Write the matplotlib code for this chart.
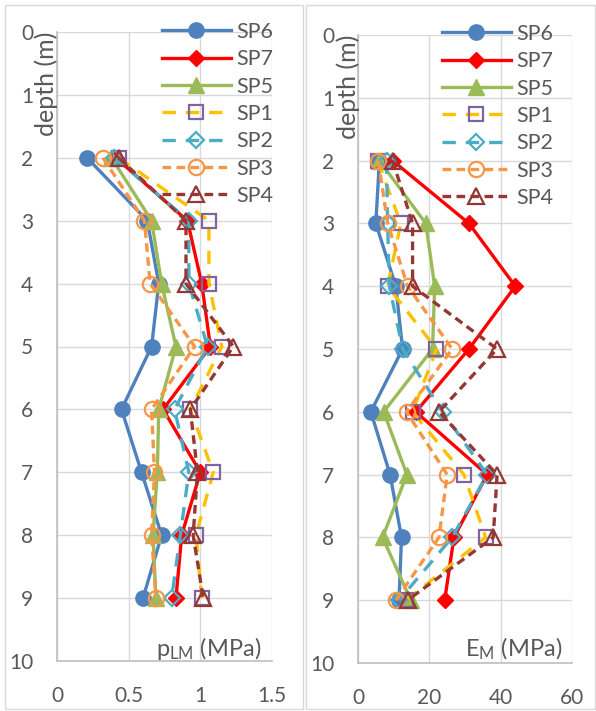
import matplotlib
matplotlib.use("Agg")
import matplotlib.pyplot as plt
from matplotlib.patches import Rectangle

plt.rcParams['font.family'] = ['Lato', 'DejaVu Sans']
plt.rcParams['mathtext.fontset'] = 'custom'
plt.rcParams['mathtext.rm'] = 'Lato'
plt.rcParams['mathtext.it'] = 'Lato'

depth = [2, 3, 4, 5, 6, 7, 8, 9]
series = ["SP6", "SP7", "SP5", "SP1", "SP2", "SP3", "SP4"]

# p_LM (MPa)
plm_SP6 = [0.21, 0.63, 0.71, 0.66, 0.45, 0.59, 0.73, 0.60]
plm_SP7 = [0.41, 0.91, 1.01, 1.07, 0.74, 1.00, 0.87, 0.83]
plm_SP5 = [0.38, 0.66, 0.73, 0.83, 0.71, 0.70, 0.67, 0.69]
plm_SP1 = [0.43, 1.06, 1.06, 1.15, 0.93, 1.09, 0.97, 1.01]
plm_SP2 = [0.40, 0.92, 0.92, 1.05, 0.82, 0.92, 0.86, 0.80]
plm_SP3 = [0.32, 0.61, 0.65, 0.96, 0.66, 0.68, 0.66, 0.69]
plm_SP4 = [0.43, 0.90, 0.90, 1.23, 0.93, 0.98, 0.95, 1.02]

# E_M (MPa)
em_SP6 = [6.0, 5.0, 10.6, 12.5, 3.6, 9.0, 12.2, 11.5]
em_SP7 = [9.7, 31.1, 44.1, 31.1, 16.2, 36.2, 26.9, 24.3]
em_SP5 = [6.0, 19.0, 21.5, 20.9, 7.2, 13.7, 6.9, 14.8]
em_SP1 = [5.5, 12.0, 8.3, 22.0, 15.3, 29.7, 35.8, 13.5]
em_SP2 = [8.0, 8.3, 8.8, 12.5, 23.7, 36.2, 26.4, 11.5]
em_SP3 = [5.7, 8.3, 13.9, 26.4, 13.6, 25.0, 22.7, 10.6]
em_SP4 = [9.7, 15.3, 15.3, 39.0, 22.7, 39.0, 37.9, 13.9]

plm = [plm_SP6, plm_SP7, plm_SP5, plm_SP1, plm_SP2, plm_SP3, plm_SP4]
em = [em_SP6, em_SP7, em_SP5, em_SP1, em_SP2, em_SP3, em_SP4]

styles = [
    dict(color='#4f81bd', ls='-', marker='o', ms=11, mfc='#4f81bd', mec='#4f81bd'),
    dict(color='#ff0000', ls='-', marker='D', ms=8.5, mfc='#ff0000', mec='#ff0000'),
    dict(color='#9bbb59', ls='-', marker='^', ms=11, mfc='#9bbb59', mec='#9bbb59'),
    dict(color='#ffc000', ls=(0, (4, 3)), marker='s', ms=10.5, mfc='none', mec='#8064a2', mew=1.6),
    dict(color='#4bacc6', ls=(0, (4, 3)), marker='D', ms=8.5, mfc='none', mec='#4bacc6', mew=1.6),
    dict(color='#f79646', ls=(0, (2.6, 1.6)), marker='o', ms=11, mfc='none', mec='#f79646', mew=1.6),
    dict(color='#953735', ls=(0, (2.6, 1.6)), marker='^', ms=11, mfc='none', mec='#953735', mew=1.6),
]

W, H = 596, 711
fig = plt.figure(figsize=(W / 100, H / 100), dpi=100)

# chart-area borders
for (x0, y0, x1, y1) in [(5, 5, 303, 709), (306, 5, 595, 709)]:
    fig.patches.append(Rectangle((x0 / W, 1 - y1 / H), (x1 - x0) / W, (y1 - y0) / H,
                                 transform=fig.transFigure, fill=False,
                                 ec='#d9d9d9', lw=1.0))

def make_ax(px0, px1, py0, py1):
    return fig.add_axes([px0 / W, 1 - py1 / H, (px1 - px0) / W, (py1 - py0) / H])

axL = make_ax(57, 272, 32, 661)
axR = make_ax(358, 572, 35, 663)

txtc = '#595959'

def style_ax(ax, xlim, xticks, xticklabels, xlabel, xlab_x, xlab_y, ylab_x):
    ax.set_xlim(*xlim)
    ax.set_ylim(10, 0)
    ax.set_xticks(xticks)
    ax.set_xticklabels(xticklabels)
    ax.set_yticks(range(0, 11))
    ax.grid(True, color='#d9d9d9', lw=1.0, zorder=0)
    ax.set_axisbelow(True)
    for s in ['top', 'right']:
        ax.spines[s].set_visible(False)
    for s in ['left', 'bottom']:
        ax.spines[s].set_color('#bfbfbf')
        ax.spines[s].set_linewidth(1.2)
    ax.tick_params(axis='both', length=0, labelsize=15, labelcolor=txtc)
    ax.tick_params(axis='y', pad=17)
    ax.tick_params(axis='x', pad=18)
    ax.text(xlab_x, xlab_y, xlabel, transform=ax.transAxes, ha='right', va='baseline',
            fontsize=17, color=txtc)
    ax.text(ylab_x, 1.0, 'depth (m)', transform=ax.transAxes, rotation=90,
            ha='center', va='top', fontsize=18, color=txtc)

for vals, name, st in zip(plm, series, styles):
    axL.plot(vals, depth, lw=2.4, label=name, clip_on=False, **st)
for vals, name, st in zip(em, series, styles):
    axR.plot(vals, depth, lw=2.4, label=name, clip_on=False, **st)

style_ax(axL, (0, 1.5), [0, 0.5, 1, 1.5], ['0', '0.5', '1', '1.5'],
         r'p$_{\mathrm{LM}}$ (MPa)', 0.949, 0.008, -0.048)
style_ax(axR, (0, 60), [0, 20, 40, 60], ['0', '20', '40', '60'],
         r'E$_{\mathrm{M}}$ (MPa)', 0.953, 0.01, -0.048)

for ax, bx, by in ((axL, 1.005, 0.016), (axR, 0.911, 0.0175)):
    leg = ax.legend(loc='upper right', bbox_to_anchor=(bx, by + 1.0), frameon=False,
                    fontsize=15.5, handlelength=3.2, handletextpad=0.25,
                    labelspacing=0.34, borderpad=0, borderaxespad=0,
                    labelcolor=txtc)

fig.savefig('out.png', dpi=100)
